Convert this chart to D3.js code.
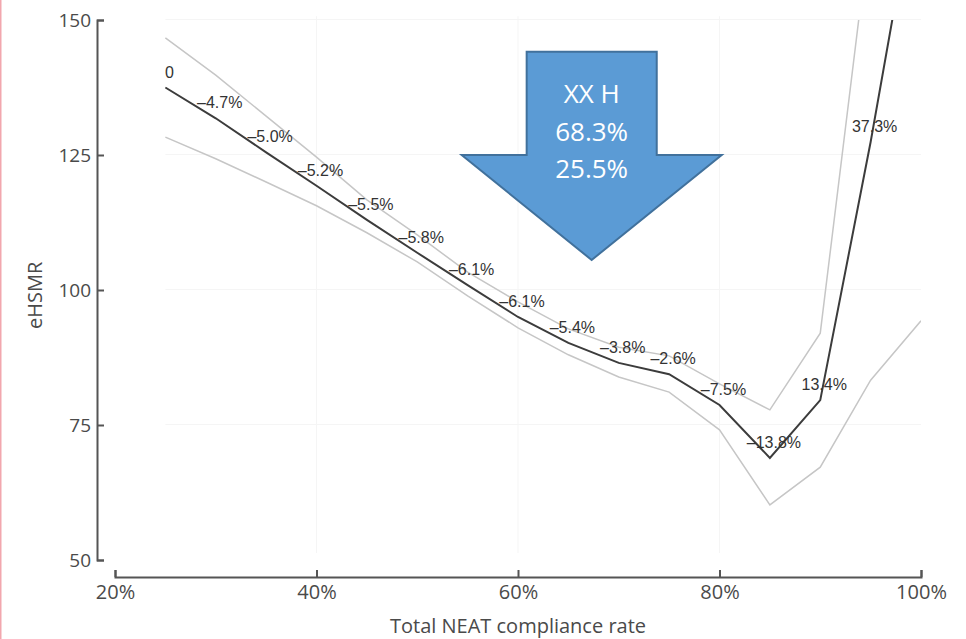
<!DOCTYPE html>
<html>
<head>
<meta charset="utf-8">
<script src="https://cdn.jsdelivr.net/npm/d3@7"></script>
<style>
  html, body { margin: 0; padding: 0; background: #fff; }
  svg { display: block; }
</style>
</head>
<body>
<svg width="966" height="639"></svg>
<script>
'use strict';

// NEAT compliance (%) at each point
var compliance = [25, 30, 35, 40, 45, 50, 55, 60, 65, 70, 75, 80, 85, 90, 95, 100];
var eHSMR = [137.5, 131.8, 125.5, 119.3, 113.0, 106.9, 100.9, 95.0, 90.2, 86.5, 84.4, 78.7, 68.9, 79.6, 127.4, 180];
var upperCI = [146.7, 139.8, 132.2, 124.6, 116.7, 110.2, 103.3, 97.8, 92.8, 89.4, 87.8, 82.6, 77.8, 92.0, 168, 215];
var lowerCI = [128.3, 124.3, 120.0, 115.6, 110.6, 105.2, 98.9, 93.0, 88.0, 83.9, 81.1, 74.1, 60.2, 67.2, 83.3, 94.3];
var changeLabels = ['0', '–4.7%', '–5.0%', '–5.2%', '–5.5%', '–5.8%', '–6.1%', '–6.1%',
    '–5.4%', '–3.8%', '–2.6%', '–7.5%', '–13.8%', '13.4%', '37.3%'];

var xTicks = [20, 40, 60, 80, 100];
var yTicks = [50, 75, 100, 125, 150];
var gridX = [40, 60, 80];
var gridY = [75, 100, 125, 150];

var arrowText = ['XX H', '68.3%', '25.5%'];
// arrow outline in chart units [compliance, eHSMR]
var arrowShape = [[60.86, 144.1], [73.77, 144.1], [73.77, 125.0], [80.22, 125.0],
    [67.31, 105.56], [54.41, 125.0], [60.86, 125.0]];

var svg = d3.select('svg');

var x = d3.scaleLinear().domain([20, 100]).range([115, 921]);
var y = d3.scaleLinear().domain([50, 150]).range([560, 20]);

// pink edge from the source page
svg.append('rect')
    .attr('x', 0).attr('y', 0)
    .attr('width', 1.5).attr('height', 639)
    .attr('fill', '#f2a7ae');

// faint grid
svg.append('g').selectAll('line')
    .data(gridY)
    .enter()
    .append('line')
    .attr('x1', x(25)).attr('x2', x(100))
    .attr('y1', function(d) { return y(d) - 0.5; })
    .attr('y2', function(d) { return y(d) - 0.5; })
    .attr('stroke', '#f5f5f5')
    .attr('stroke-width', 1);

svg.append('g').selectAll('line')
    .data(gridX)
    .enter()
    .append('line')
    .attr('x1', function(d) { return x(d); })
    .attr('x2', function(d) { return x(d); })
    .attr('y1', y(150.7)).attr('y2', y(51.3))
    .attr('stroke', '#f5f5f5')
    .attr('stroke-width', 1);

// axes
var axisY = d3.axisLeft(y)
    .tickValues(yTicks)
    .tickSize(-7)
    .tickPadding(6);

var axisX = d3.axisBottom(x)
    .tickValues(xTicks)
    .tickSize(-7)
    .tickPadding(8)
    .tickFormat(function(d) { return d + '%'; });

var gY = svg.append('g')
    .attr('transform', 'translate(97,0)')
    .call(axisY);

var gX = svg.append('g')
    .attr('transform', 'translate(0,577)')
    .call(axisX);

[gY, gX].forEach(function(g) {
    g.select('.domain').attr('stroke', '#555').attr('stroke-width', 2);
    g.selectAll('.tick line').attr('stroke', '#555').attr('stroke-width', 2);
    g.selectAll('.tick text')
        .attr('fill', '#4a4a4a')
        .style('font-family', '"Open Sans", sans-serif')
        .style('font-size', '19px');
});
gX.selectAll('.tick text').style('font-size', '20px');

svg.append('text')
    .attr('transform', 'translate(42,' + y(99) + ') rotate(-90)')
    .attr('text-anchor', 'middle')
    .attr('fill', '#4a4a4a')
    .style('font-family', '"Open Sans", sans-serif')
    .style('font-size', '20px')
    .text('eHSMR');

svg.append('text')
    .attr('x', x(60))
    .attr('y', 633)
    .attr('text-anchor', 'middle')
    .attr('fill', '#4a4a4a')
    .style('font-family', '"Open Sans", sans-serif')
    .style('font-size', '20px')
    .text('Total NEAT compliance rate');

// lines
svg.append('clipPath')
    .attr('id', 'plot-clip')
    .append('rect')
    .attr('x', x(20)).attr('y', y(150))
    .attr('width', x(100) - x(20))
    .attr('height', y(50) - y(150));

var plot = svg.append('g').attr('clip-path', 'url(#plot-clip)');

function lineFor(values) {
    return d3.line()
        .x(function(d, i) { return x(compliance[i]); })
        .y(function(d) { return y(d); })(values);
}

[upperCI, lowerCI].forEach(function(series) {
    plot.append('path')
        .attr('d', lineFor(series))
        .attr('fill', 'none')
        .attr('stroke', '#c6c6c6')
        .attr('stroke-width', 1.5);
});

plot.append('path')
    .attr('d', lineFor(eHSMR))
    .attr('fill', 'none')
    .attr('stroke', '#3c3c3c')
    .attr('stroke-width', 2);

// change labels
svg.append('g').selectAll('text')
    .data(changeLabels)
    .enter()
    .append('text')
    .attr('x', function(d, i) { return x(compliance[i]) + 4; })
    .attr('y', function(d, i) { return y(eHSMR[i]) - 10; })
    .attr('text-anchor', 'middle')
    .attr('fill', '#333')
    .style('font-family', '"Liberation Sans", Arial, sans-serif')
    .style('font-size', '16px')
    .text(function(d) { return d; });

// annotation arrow
svg.append('path')
    .attr('d', d3.line()
        .x(function(d) { return x(d[0]); })
        .y(function(d) { return y(d[1]); })
        .curve(d3.curveLinearClosed)(arrowShape))
    .attr('fill', '#5b9bd5')
    .attr('stroke', '#41719c')
    .attr('stroke-width', 2);

svg.append('g').selectAll('text')
    .data(arrowText)
    .enter()
    .append('text')
    .attr('x', x(67.31))
    .attr('y', function(d, i) { return y(144.1) + 51.5 + i * 37.5; })
    .attr('text-anchor', 'middle')
    .attr('fill', '#fff')
    .style('font-family', '"Open Sans", sans-serif')
    .style('font-size', '26px')
    .text(function(d) { return d; });
</script>
</body>
</html>
